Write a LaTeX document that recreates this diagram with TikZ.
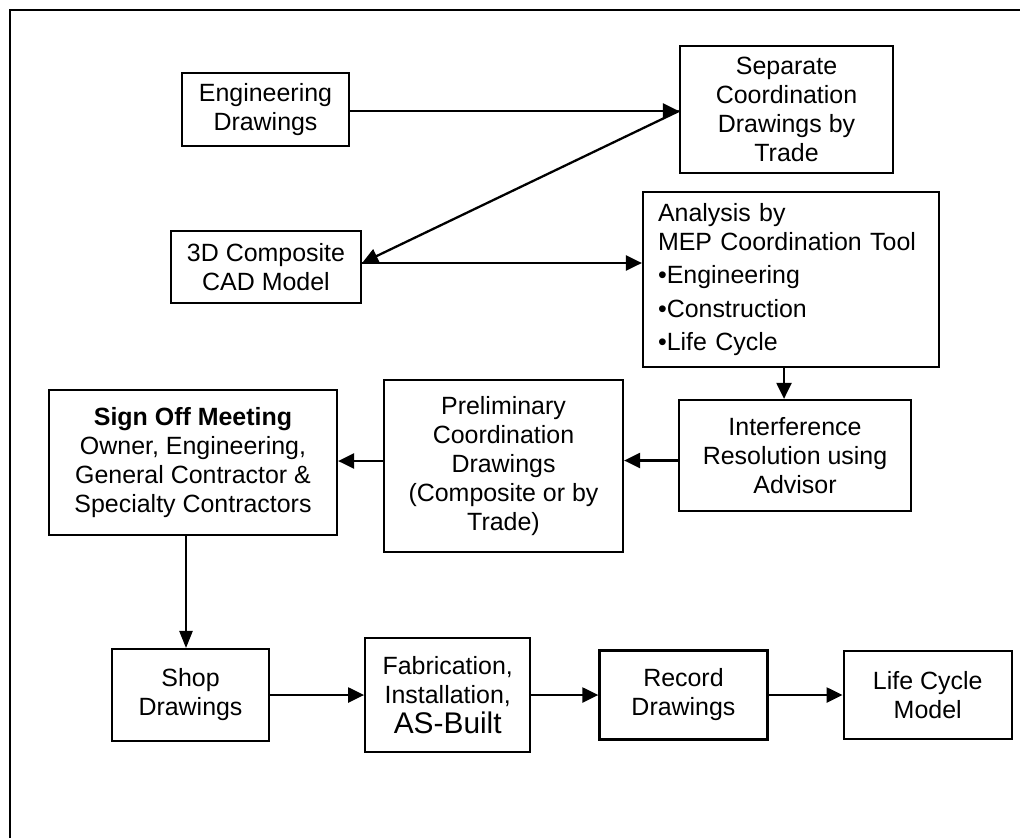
\documentclass[tikz,border=0pt]{standalone}
\usepackage{fontspec}
\setmainfont{Liberation Sans}
\usetikzlibrary{arrows.meta,positioning}

\begin{document}
\begin{tikzpicture}[x=0.02cm, y=-0.02cm,
		block/.style={rectangle, draw, line width=1.3pt, align=center, inner sep=2pt, font=\fontsize{14.2}{16.5}\selectfont},
		flow/.style={-{Triangle[length=0.32cm,width=0.3cm]}, line width=1.3pt},
		thinflow/.style={-{Triangle[length=0.34cm,width=0.27cm]}, line width=0.6pt}]
			\useasboundingbox (0,0) rectangle (1020,838);
			\draw [line width=1pt] (10,838) -- (10,10) -- (1020,10);
			
			\node (eng) [block, minimum width=3.34cm, minimum height=1.46cm] at (265.5,109.5) {Engineering\\Drawings};
			\node (sep) [block, minimum width=4.26cm, minimum height=2.54cm] at (786.5,109.5) {Separate\\Coordination\\Drawings by\\Trade};
			\node (cad) [block, minimum width=3.8cm, minimum height=1.44cm] at (266,267) {3D Composite\\CAD Model};
			\node (anal) [block, minimum width=5.92cm, minimum height=3.5cm, text width=5.32cm, inner xsep=0.3cm, align=left] at (791,279.5)
				{Analysis by\\MEP Coordination Tool\\[2.5pt]\textbullet Engineering\\[2.5pt]\textbullet Construction\\[2.5pt]\textbullet Life Cycle};
			\node (intf) [block, minimum width=4.64cm, minimum height=2.22cm] at (795,455.5) {Interference\\Resolution using\\Advisor};
			\node (prel) [block, minimum width=4.78cm, minimum height=3.44cm] at (503.5,466) {Preliminary\\Coordination\\Drawings\\(Composite or by\\Trade)};
			\node (sign) [block, minimum width=5.76cm, minimum height=2.9cm] at (193,462.5) {\textbf{Sign Off Meeting}\\Owner, Engineering,\\General Contractor \&\\Specialty Contractors};
			
			\node (shop) [block, minimum width=3.14cm, minimum height=1.84cm] at (190.5,695) {Shop\\Drawings};
			\node (fab) [block, minimum width=3.3cm, minimum height=2.28cm, right=1.88cm of shop] {Fabrication,\\Installation,\\[1pt]{\fontsize{17}{19}\selectfont AS-Built}};
			\node (rec) [block, minimum width=3.36cm, minimum height=1.78cm, right=1.34cm of fab] {Record\\Drawings};
			\node (life) [block, minimum width=3.36cm, minimum height=1.76cm, right=1.48cm of rec] {Life Cycle\\Model};
			
			\draw [flow] ([yshift=-0.03cm]eng.east) -- ([yshift=-0.03cm]sep.west);
			\draw [flow] ([yshift=-0.03cm]sep.west) -- ([yshift=0.08cm]cad.east);
			\draw [flow] ([yshift=0.08cm]cad.east) -- ([yshift=0.08cm]cad.east -| anal.west);
			\draw [flow] ([xshift=-0.14cm]anal.south) -- ([xshift=-0.14cm]anal.south |- intf.north);
			\draw [flow] ([yshift=-0.1cm]intf.west) -- ([yshift=-0.1cm]intf.west -| prel.east);
			\draw [flow] ([yshift=0.1cm]prel.west) -- ([yshift=0.1cm]prel.west -| sign.east);
			\draw [thinflow] ([xshift=-0.14cm]sign.south) -- ([xshift=-0.14cm]sign.south |- shop.north);
			\draw [flow] (shop) -- (fab);
			\draw [flow] (fab) -- (rec);
			\draw [flow] (rec) -- (life);
		\end{tikzpicture}
\end{document}
